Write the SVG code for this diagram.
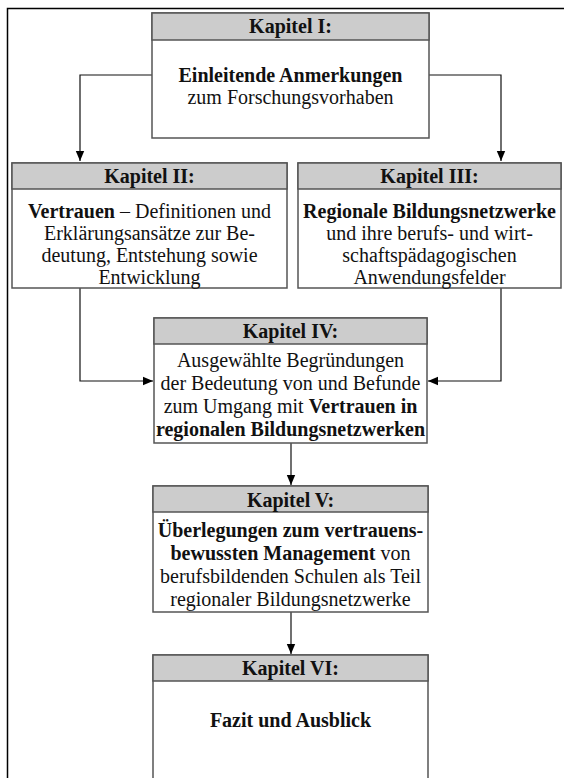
<svg xmlns="http://www.w3.org/2000/svg" width="564" height="778" viewBox="0 0 564 778">
<style>
text{font-family:"Liberation Serif","Times New Roman",serif;font-size:20px;fill:#111;text-anchor:middle}
.b{font-weight:bold}
.box{fill:#fff;stroke:#555;stroke-width:1.5}
.hdr{fill:#cccccc;stroke:#555;stroke-width:1.5}
.con{fill:none;stroke:#111;stroke-width:1.2}
.frame{fill:none;stroke:#000;stroke-width:1.5}
</style>
<defs>
<marker id="ah" viewBox="0 0 10 10" refX="10" refY="5" markerWidth="10" markerHeight="10" markerUnits="userSpaceOnUse" orient="auto">
<path d="M0,0.8 L10,5 L0,9.2 Z" fill="#000"/>
</marker>
</defs>
<rect width="564" height="778" fill="#fff"/>
<path class="frame" d="M7.5,778 V8.5 H564"/>

<g id="connectors">
<path class="con" d="M152,75 H80 V161" marker-end="url(#ah)"/>
<path class="con" d="M429,75 H501 V161" marker-end="url(#ah)"/>
<path class="con" d="M80,288 V381 H153" marker-end="url(#ah)"/>
<path class="con" d="M501,288 V381 H428" marker-end="url(#ah)"/>
<path class="con" d="M291,443 V485" marker-end="url(#ah)"/>
<path class="con" d="M291,612 V654" marker-end="url(#ah)"/>
</g>

<g id="kapitel1">
<rect class="box" x="152" y="13" width="277" height="125"/>
<rect class="hdr" x="152" y="13" width="277" height="27"/>
<text class="b" x="290.5" y="33">Kapitel I:</text>
<text class="b" x="290.5" y="82">Einleitende Anmerkungen</text>
<text x="290.5" y="104">zum Forschungsvorhaben</text>
</g>

<g id="kapitel2">
<rect class="box" x="12" y="163" width="275" height="125"/>
<rect class="hdr" x="12" y="163" width="275" height="26"/>
<text class="b" x="149.5" y="183">Kapitel II:</text>
<text x="149.5" y="218"><tspan class="b">Vertrauen</tspan> – Definitionen und</text>
<text x="149.5" y="240">Erklärungsansätze zur Be-</text>
<text x="149.5" y="262">deutung, Entstehung sowie</text>
<text x="149.5" y="284">Entwicklung</text>
</g>

<g id="kapitel3">
<rect class="box" x="298" y="163" width="263" height="125"/>
<rect class="hdr" x="298" y="163" width="263" height="26"/>
<text class="b" x="429.5" y="183">Kapitel III:</text>
<text class="b" x="429.5" y="218">Regionale Bildungsnetzwerke</text>
<text x="429.5" y="240">und ihre berufs- und wirt-</text>
<text x="429.5" y="262">schaftspädagogischen</text>
<text x="429.5" y="284">Anwendungsfelder</text>
</g>

<g id="kapitel4">
<rect class="box" x="154" y="318" width="273" height="125"/>
<rect class="hdr" x="154" y="318" width="273" height="26"/>
<text class="b" x="290.5" y="338">Kapitel IV:</text>
<text x="290.5" y="367">Ausgewählte Begründungen</text>
<text x="290.5" y="390">der Bedeutung von und Befunde</text>
<text x="290.5" y="413">zum Umgang mit <tspan class="b">Vertrauen in</tspan></text>
<text class="b" x="290.5" y="436">regionalen Bildungsnetzwerken</text>
</g>

<g id="kapitel5">
<rect class="box" x="153" y="486" width="275" height="126"/>
<rect class="hdr" x="153" y="486" width="275" height="26"/>
<text class="b" x="290.5" y="507">Kapitel V:</text>
<text class="b" x="290.5" y="537">Überlegungen zum vertrauens-</text>
<text x="290.5" y="560"><tspan class="b">bewussten Management</tspan> von</text>
<text x="290.5" y="583">berufsbildenden Schulen als Teil</text>
<text x="290.5" y="606">regionaler Bildungsnetzwerke</text>
</g>

<g id="kapitel6">
<rect class="box" x="153" y="655" width="275" height="140"/>
<rect class="hdr" x="153" y="655" width="275" height="26"/>
<text class="b" x="290.5" y="675">Kapitel VI:</text>
<text class="b" x="290.5" y="727">Fazit und Ausblick</text>
</g>
</svg>
